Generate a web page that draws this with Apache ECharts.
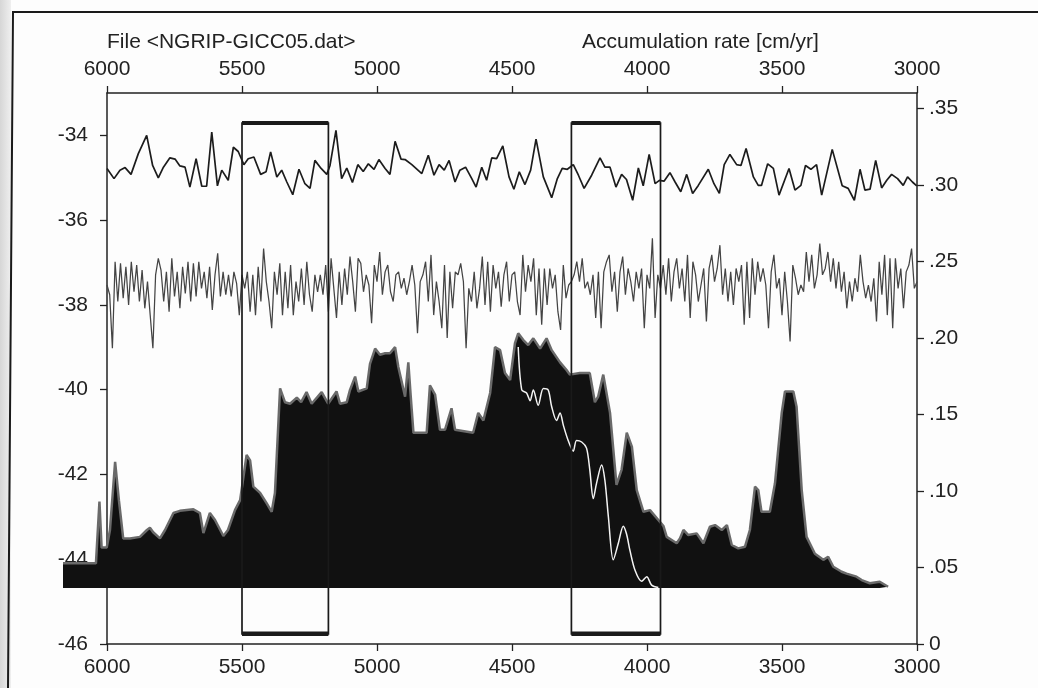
<!DOCTYPE html>
<html><head><meta charset="utf-8">
<script src="https://cdn.jsdelivr.net/npm/echarts@6/dist/echarts.min.js"></script>
<style>html,body{margin:0;padding:0;background:#fff}#c{width:1038px;height:688px}</style>
</head><body><div id="c"></div>
<script>
// ---- data ----
const xTicks = [6000, 5500, 5000, 4500, 4000, 3500, 3000];
const leftTicks = [-46, -44, -42, -40, -38, -36, -34];
const rightTicks = [0, 0.05, 0.10, 0.15, 0.20, 0.25, 0.30, 0.35];
const titleLeft = 'File <NGRIP-GICC05.dat>';
const titleRight = 'Accumulation rate [cm/yr]';

// upper (thick) record, left-axis units
const topYears = [6000,5974,5952,5933,5911,5884,5853,5831,5810,5791,5767,5748,5730,5711,5693,5670,5649,5631,5612,5591,5575,5551,5532,5514,5493,5477,5456,5431,5411,5394,5371,5353,5334,5312,5289,5267,5248,5230,5207,5186,5174,5152,5131,5112,5091,5071,5051,5032,5011,4993,4970,4952,4933,4911,4896,4871,4834,4810,4789,4770,4751,4733,4711,4693,4672,4649,4633,4612,4594,4575,4557,4534,4511,4493,4473,4452,4431,4411,4384,4353,4332,4314,4295,4273,4254,4233,4205,4174,4156,4137,4115,4094,4076,4053,4032,4014,3992,3970,3954,3937,3915,3896,3875,3853,3831,3810,3773,3752,3732,3714,3693,3668,3652,3633,3606,3588,3576,3553,3532,3511,3474,3452,3430,3413,3393,3372,3353,3314,3277,3255,3232,3211,3193,3174,3153,3131,3112,3094,3072,3051,3035,3017,3001];
const topValues = [-34.78,-35.02,-34.82,-34.76,-34.92,-34.43,-34.00,-34.71,-35.00,-34.75,-34.53,-34.56,-34.72,-34.75,-35.22,-34.55,-35.20,-35.20,-33.92,-35.19,-34.82,-35.06,-34.28,-34.38,-34.69,-34.55,-34.51,-34.92,-34.86,-34.39,-34.98,-34.82,-35.10,-35.40,-34.80,-35.14,-35.25,-34.59,-34.78,-34.92,-34.71,-33.88,-35.02,-34.77,-35.11,-34.69,-34.85,-34.67,-34.80,-34.57,-34.78,-34.92,-34.14,-34.56,-34.57,-34.69,-34.90,-34.47,-34.94,-34.69,-34.82,-34.59,-35.10,-34.82,-34.75,-35.02,-35.22,-34.75,-35.06,-34.53,-34.55,-34.25,-34.98,-35.27,-34.86,-35.16,-34.82,-34.09,-34.98,-35.47,-35.02,-34.78,-34.80,-34.69,-34.94,-35.25,-34.94,-34.53,-34.75,-34.75,-35.22,-34.92,-35.04,-35.53,-34.77,-35.19,-34.45,-35.14,-35.06,-35.08,-34.88,-35.10,-35.33,-34.92,-35.37,-35.18,-34.80,-35.14,-35.37,-34.69,-34.45,-34.69,-34.71,-34.31,-34.98,-35.18,-35.18,-34.67,-34.78,-35.41,-34.78,-35.29,-35.18,-34.71,-34.80,-34.69,-35.41,-34.33,-35.19,-35.25,-35.53,-34.80,-35.29,-35.27,-34.59,-35.24,-35.06,-34.92,-35.02,-35.18,-34.98,-35.10,-35.19];

// dense (grey) record, left-axis units, one sample every 10 years from 6000
const noiseStartYear = 6000;
const noiseStepYears = 10;
const noiseValues = [
-37.53,-37.76,-39.02,-36.98,-37.92,-37.02,-37.84,-37.10,-38.00,-36.98,-37.69,-37.06,-37.92,-37.18,-38.08,-37.45,-38.24,-39.02,-37.29,-36.90,-37.18,-37.92,-37.22,-38.16,-36.90,-37.80,-37.22,-38.08,-37.10,-37.73,-36.98,-37.92,-37.02,-37.80,-36.98,-37.61,-37.22,-37.84,-37.10,-38.12,-37.29,-36.78,-37.80,-37.22,-37.76,-37.29,-37.80,-37.22,-37.49,-38.24,-37.29,-37.61,-37.22,-38.16,-37.29,-38.24,-37.10,-37.92,-36.67,-37.45,-37.92,-38.55,-37.22,-37.76,-37.02,-38.24,-37.22,-38.08,-37.06,-38.24,-37.45,-37.92,-37.14,-38.00,-36.98,
-37.76,-38.16,-37.29,-37.69,-37.29,-37.76,-37.06,-38.16,-36.90,-37.61,-38.31,-37.22,-38.00,-37.14,-37.76,-36.86,-37.45,-38.16,-36.90,-37.02,-37.69,-37.29,-37.53,-38.43,-37.06,-37.45,-36.75,-37.76,-37.22,-37.06,-37.69,-37.92,-37.29,-37.22,-37.61,-37.37,-37.76,-37.45,-37.06,-37.53,-38.67,-37.45,-37.29,-36.98,-37.92,-36.82,-38.24,-37.45,-37.92,-38.55,-37.06,-38.78,-37.22,-38.08,-37.22,-37.29,-37.02,-37.45,-39.02,-37.61,-37.92,-37.22,-38.08,-37.61,-36.86,-38.00,-36.98,-38.16,-37.06,-37.61,-37.22,-38.04,-37.29,-36.98,-37.92,-37.29,
-37.22,-37.92,-38.24,-36.82,-37.69,-37.06,-37.45,-36.90,-38.24,-37.14,-38.47,-37.14,-38.00,-37.14,-37.61,-37.29,-38.16,-38.59,-37.06,-37.84,-37.53,-37.45,-37.29,-36.98,-37.45,-36.90,-37.61,-37.45,-37.76,-37.29,-38.31,-37.22,-38.55,-37.22,-36.98,-36.82,-37.69,-37.22,-38.16,-37.22,-36.86,-37.76,-37.14,-37.45,-37.92,-37.22,-37.61,-37.14,-38.55,-37.29,-37.61,-36.43,-38.31,-37.29,-37.61,-37.06,-37.76,-36.90,-37.92,-37.22,-36.90,-37.61,-37.14,-37.92,-36.82,-38.31,-36.98,-37.29,-37.92,-37.53,-37.14,-38.39,-37.14,-36.82,-37.45,-37.14,
-36.59,-37.76,-37.14,-37.92,-37.22,-38.00,-37.14,-37.45,-37.06,-38.47,-36.98,-38.31,-36.90,-37.76,-36.98,-37.45,-37.14,-37.53,-38.55,-37.22,-36.82,-37.61,-37.37,-38.24,-37.22,-37.92,-38.86,-37.06,-37.37,-37.76,-37.53,-37.69,-36.75,-37.45,-36.82,-37.61,-37.29,-36.55,-37.29,-37.14,-36.75,-37.45,-36.90,-37.61,-36.98,-37.69,-37.22,-38.08,-37.45,-37.92,-37.37,-37.69,-36.82,-37.45,-37.84,-37.53,-37.92,-37.37,-38.39,-36.98,-37.76,-36.82,-38.24,-36.90,-38.55,-36.90,-37.61,-37.14,-38.08,-37.22,-37.06,-36.67,-37.61,-37.45
];

// black filled record, right-axis units
const areaYears = [6163,6041,6035,6028,6020,6001,5989,5970,5956,5940,5915,5878,5852,5841,5829,5804,5785,5754,5730,5705,5680,5656,5643,5619,5600,5569,5552,5526,5507,5483,5470,5458,5433,5409,5390,5378,5359,5341,5322,5297,5281,5261,5242,5205,5181,5150,5137,5112,5100,5081,5069,5038,5026,5007,4989,4970,4952,4933,4921,4896,4884,4875,4865,4816,4804,4785,4767,4748,4724,4711,4644,4625,4606,4581,4563,4544,4526,4507,4489,4477,4458,4440,4421,4396,4372,4353,4322,4298,4286,4249,4212,4193,4181,4162,4137,4113,4094,4075,4056,4038,4013,3989,3958,3939,3927,3890,3878,3865,3847,3816,3791,3767,3748,3723,3704,3686,3662,3637,3619,3600,3588,3576,3545,3526,3501,3489,3458,3446,3427,3409,3378,3347,3329,3310,3279,3261,3224,3205,3175,3138,3107];
const areaValues = [0.0527,0.0527,0.053,0.093,0.063,0.063,0.0745,0.119,0.094,0.069,0.069,0.070,0.0745,0.076,0.073,0.069,0.0745,0.0856,0.087,0.0875,0.088,0.0856,0.0725,0.0856,0.081,0.0706,0.0745,0.0875,0.094,0.1235,0.120,0.1028,0.0987,0.092,0.0864,0.0987,0.167,0.158,0.157,0.161,0.158,0.1646,0.157,0.1646,0.157,0.165,0.157,0.158,0.166,0.1747,0.165,0.167,0.183,0.193,0.189,0.190,0.190,0.194,0.181,0.1616,0.184,0.1616,0.138,0.138,0.169,0.163,0.140,0.140,0.154,0.140,0.138,0.151,0.146,0.164,0.194,0.192,0.177,0.1725,0.1965,0.203,0.1986,0.1953,0.1997,0.193,0.1997,0.192,0.184,0.179,0.176,0.177,0.177,0.158,0.1616,0.176,0.151,0.104,0.114,0.138,0.129,0.1006,0.0864,0.0875,0.081,0.077,0.070,0.0658,0.069,0.0745,0.0712,0.0723,0.0658,0.0766,0.0777,0.0745,0.0777,0.0647,0.0625,0.0636,0.0745,0.1028,0.1006,0.0864,0.0864,0.105,0.151,0.165,0.165,0.155,0.1006,0.070,0.059,0.055,0.057,0.0505,0.0472,0.046,0.044,0.0418,0.0397,0.0407,0.0374];
const areaBase = 0.0366;

// white curve drawn over the black fill, right-axis units
const whiteYears = [4477,4464,4446,4433,4421,4403,4384,4366,4353,4335,4322,4310,4292,4273,4261,4242,4224,4212,4199,4187,4168,4156,4143,4125,4106,4088,4076,4063,4044,4020,4001,3983,3958];
const whiteValues = [0.194,0.166,0.164,0.159,0.166,0.156,0.167,0.166,0.155,0.146,0.151,0.143,0.133,0.126,0.133,0.132,0.128,0.114,0.095,0.105,0.117,0.107,0.083,0.055,0.066,0.077,0.072,0.061,0.048,0.041,0.044,0.0385,0.037];

// highlighted windows [start year, end year], left-axis units for top/bottom
const boxRanges = [[5500, 5180], [4280, 3950]];
const boxTop = -33.71;
const boxBottom = -45.76;

// ---- chart ----
const FONT = '"Liberation Sans", Arial, Helvetica, sans-serif';
const INK = '#222';
const pairs = (xs, ys) => xs.slice(0, Math.min(xs.length, ys.length)).map((x, i) => [x, ys[i]]);
const noiseData = noiseValues.map((v, i) => [noiseStartYear - i * noiseStepYears, v]);

const chart = echarts.init(document.getElementById('c'), null, {renderer: 'canvas'});
const axisLine = {show: true, onZero: false, lineStyle: {color: INK, width: 1.5}};
const tick = {show: true, length: 7, lineStyle: {color: INK, width: 1.3}};
const lab = {color: INK, fontSize: 21, fontFamily: FONT};
const plain = v => String(v);

chart.setOption({
  animation: false,
  backgroundColor: '#fdfdfd',
  title: [
    {text: titleLeft, left: 107, top: 32, padding: 0, textStyle: {fontSize: 21, fontWeight: 'normal', color: INK, fontFamily: FONT}},
    {text: titleRight, left: 582, top: 32, padding: 0, textStyle: {fontSize: 21, fontWeight: 'normal', color: INK, fontFamily: FONT}}
  ],
  graphic: [
    {type: 'rect', shape: {x: 0, y: 0, width: 11, height: 688}, style: {fill: new echarts.graphic.LinearGradient(0, 0, 1, 0, [{offset: 0, color: '#d6d6d6'}, {offset: 1, color: '#efefef'}])}, z: -1},
    {type: 'polyline', shape: {points: [[1038, 12], [13, 12], [8, 688]]}, style: {stroke: '#1a1a1a', lineWidth: 2, fill: null}, z: 10}
  ],
  grid: [
    {left: 107, right: 121, top: 93, bottom: 44},
    {left: 63, right: 121, top: 93, bottom: 100}
  ],
  xAxis: [
    {type: 'value', gridIndex: 0, position: 'bottom', min: 3000, max: 6000, interval: 500, inverse: true,
     axisLine, axisTick: tick, axisLabel: Object.assign({margin: 13, formatter: plain}, lab), splitLine: {show: false}},
    {type: 'value', gridIndex: 0, position: 'top', min: 3000, max: 6000, interval: 500, inverse: true,
     axisLine, axisTick: tick, axisLabel: Object.assign({margin: 13, formatter: plain}, lab), splitLine: {show: false}},
    {type: 'value', gridIndex: 1, min: 3000, max: 6163, inverse: true, show: false}
  ],
  yAxis: [
    {type: 'value', gridIndex: 0, position: 'left', min: -46, max: -33,
     axisLine, axisTick: Object.assign({customValues: leftTicks}, tick),
     axisLabel: Object.assign({margin: 19, customValues: leftTicks}, lab), splitLine: {show: false}},
    {type: 'value', gridIndex: 0, position: 'right', min: 0, max: 0.36,
     axisLine, axisTick: Object.assign({customValues: rightTicks}, tick),
     axisLabel: Object.assign({margin: 12, customValues: rightTicks,
       formatter: v => v === 0 ? '0' : v.toFixed(2).replace(/^0/, '')}, lab), splitLine: {show: false}},
    {type: 'value', gridIndex: 1, min: areaBase, max: 0.36, show: false}
  ],
  series: [
    {type: 'line', name: 'fill', xAxisIndex: 2, yAxisIndex: 2, data: pairs(areaYears, areaValues),
     showSymbol: false, symbol: 'none', z: 2,
     lineStyle: {color: '#6a6a6a', width: 2.5}, areaStyle: {color: '#111', opacity: 1, origin: 'start'}},
    {type: 'line', name: 'white', xAxisIndex: 2, yAxisIndex: 2, data: pairs(whiteYears, whiteValues),
     showSymbol: false, symbol: 'none', z: 4, smooth: 0.3, lineStyle: {color: '#f4f4f4', width: 1.5}},
    {type: 'line', name: 'dense', xAxisIndex: 0, yAxisIndex: 0, data: noiseData,
     showSymbol: false, symbol: 'none', z: 3, lineStyle: {color: '#444', width: 1.25}},
    {type: 'line', name: 'upper', xAxisIndex: 0, yAxisIndex: 0, data: pairs(topYears, topValues),
     showSymbol: false, symbol: 'none', z: 3, lineStyle: {color: '#1c1c1c', width: 1.7}},
    {type: 'custom', name: 'windows', xAxisIndex: 0, yAxisIndex: 0, data: boxRanges, z: 5,
     encode: {x: [0, 1]},
     renderItem: (params, api) => {
       const a = api.coord([api.value(0), boxTop]);
       const b = api.coord([api.value(1), boxBottom]);
       return {type: 'group', children: [
         {type: 'rect', shape: {x: a[0], y: a[1], width: b[0] - a[0], height: b[1] - a[1]},
          style: {fill: null, stroke: '#1a1a1a', lineWidth: 1.7}},
         {type: 'line', shape: {x1: a[0], y1: a[1], x2: b[0], y2: a[1]}, style: {stroke: '#1a1a1a', lineWidth: 4}},
         {type: 'line', shape: {x1: a[0], y1: b[1], x2: b[0], y2: b[1]}, style: {stroke: '#1a1a1a', lineWidth: 4.5}}
       ]};
     }}
  ]
});
</script></body></html>
